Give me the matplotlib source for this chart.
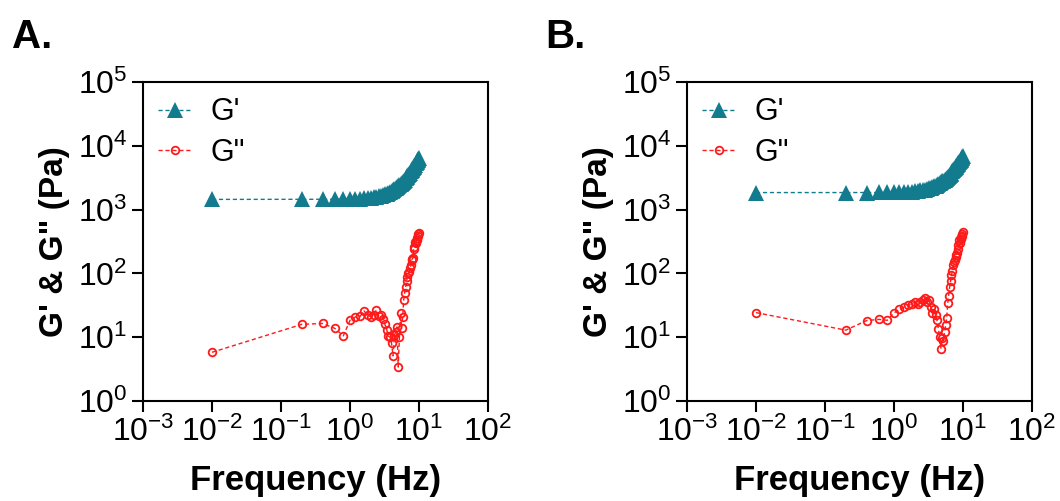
import matplotlib
matplotlib.use('Agg')
import matplotlib.pyplot as plt
import numpy as np
from matplotlib.ticker import FixedLocator, NullLocator, FuncFormatter

plt.rcParams['font.family'] = ['Liberation Sans', 'DejaVu Sans']
plt.rcParams['mathtext.fontset'] = 'custom'
plt.rcParams['mathtext.rm'] = 'Liberation Sans'
plt.rcParams['mathtext.it'] = 'Liberation Sans:italic'
plt.rcParams['mathtext.bf'] = 'Liberation Sans:bold'

# Frequency sweep (Hz), shared by both samples
freq = [0.01, 0.2, 0.4, 0.6, 0.8, 1.0, 1.2, 1.4, 1.6, 1.8, 2.0,
        2.2, 2.4, 2.6, 2.8, 3.0, 3.2, 3.4, 3.6, 3.8, 4.0,
        4.2, 4.4, 4.6, 4.8, 5.0, 5.2, 5.4, 5.6, 5.8, 6.0,
        6.2, 6.4, 6.6, 6.8, 7.0, 7.2, 7.4, 7.6, 7.8, 8.0,
        8.2, 8.4, 8.6, 8.8, 9.0, 9.2, 9.4, 9.6, 9.8, 10.0]

# Sample A
g1_a = [1445, 1450, 1452, 1454, 1459, 1466, 1475, 1487, 1501, 1519, 1539,
        1564, 1591, 1622, 1657, 1696, 1740, 1787, 1839, 1895, 1956,
        2022, 2092, 2167, 2248, 2334, 2425, 2521, 2623, 2731, 2844,
        2963, 3088, 3219, 3357, 3500, 3650, 3805, 3968, 4137, 4312,
        4494, 4685, 4879, 5082, 5292, 5509, 5735, 5966, 6203, 6450]
g2_a = [5.8, 15.9, 16.4, 13.8, 10.5, 18.4, 20.8, 21.2, 25.8, 22.0, 21.0,
        22.5, 26.5, 21.5, 22.0, 19.5, 16.0, 13.2, 10.4, 10.0, 8.1,
        5.1, 10.7, 12.0, 14.5, 3.4, 10.0, 23.7, 13.8, 21.0, 38,
        50, 62, 76, 88, 100, 105, 120, 133, 160, 170,
        175, 245, 260, 310, 300, 330, 360, 390, 410, 435]

# Sample B
g1_b = [1850, 1850, 1852, 1854, 1859, 1866, 1876, 1888, 1903, 1921, 1942,
        1967, 1995, 2027, 2063, 2103, 2149, 2197, 2251, 2308, 2371,
        2439, 2511, 2589, 2672, 2761, 2854, 2953, 3058, 3169, 3286,
        3408, 3537, 3672, 3814, 3962, 4116, 4276, 4444, 4618, 4798,
        4985, 5182, 5382, 5591, 5807, 6031, 6264, 6501, 6746, 7000]
g2_b = [24.3, 12.9, 18.2, 19.0, 18.4, 24.0, 27.4, 29.5, 31.6, 33.0, 35.6,
        33.0, 36.0, 38.5, 41.0, 35.6, 38.0, 30.0, 24.0, 28.0, 22.0,
        18.4, 13.6, 10.0, 6.6, 9.6, 8.8, 12.0, 15.4, 20.0, 34,
        45, 61, 75, 93, 110, 133, 150, 165, 180, 195,
        210, 240, 280, 330, 300, 350, 370, 390, 410, 440]

panels = ['A.', 'B.']
teal = '#127B8E'
red = '#FF1A1A'

W, H = 1060, 501
fig = plt.figure(figsize=(W / 100, H / 100), dpi=100)


def exp_fmt(v, pos):
    e = int(round(np.log10(v)))
    return r'$\mathregular{10^{%d}}$' % e


axes_left = [143, 687]
letter_x = [12, 545]
datasets = [(g1_a, g2_a), (g1_b, g2_b)]

for i in range(2):
    ax = fig.add_axes([axes_left[i] / W, (H - 401) / H, 345 / W, 319 / H])
    g1, g2 = datasets[i]
    ax.plot(freq, g1, linestyle='--', dashes=(3, 2), linewidth=1, color=teal,
            marker='^', markersize=11, markeredgewidth=0, label="G'")
    ax.plot(freq, g2, linestyle='--', dashes=(3, 2), linewidth=1, color=red,
            marker='o', markersize=5.5, markerfacecolor='none',
            markeredgewidth=1.3, label='G"')
    ax.set_xscale('log')
    ax.set_yscale('log')
    ax.set_xlim(1e-3, 1e2)
    ax.set_ylim(1e0, 1e5)
    ax.xaxis.set_major_locator(FixedLocator([1e-3, 1e-2, 1e-1, 1e0, 1e1, 1e2]))
    ax.yaxis.set_major_locator(FixedLocator([1e0, 1e1, 1e2, 1e3, 1e4, 1e5]))
    ax.xaxis.set_minor_locator(NullLocator())
    ax.yaxis.set_minor_locator(NullLocator())
    ax.xaxis.set_major_formatter(FuncFormatter(exp_fmt))
    ax.yaxis.set_major_formatter(FuncFormatter(exp_fmt))
    ax.tick_params(direction='out', length=8, width=1.5, labelsize=23, pad=3)
    for s in ax.spines.values():
        s.set_linewidth(1.5)
    ax.set_xlabel('Frequency (Hz)', fontsize=25, fontweight='bold', labelpad=12)
    ax.set_ylabel('G\' & G" (Pa)', fontsize=24, fontweight='bold', labelpad=6)
    ax.legend(loc='upper left', frameon=False, fontsize=22, handlelength=1.1,
              handletextpad=0.6, borderaxespad=0.1, labelspacing=0.35)
    fig.text(letter_x[i] / W, 1 - 48 / H, panels[i], fontsize=29,
             fontweight='bold', ha='left', va='baseline')

fig.savefig('out.png', dpi=100)
